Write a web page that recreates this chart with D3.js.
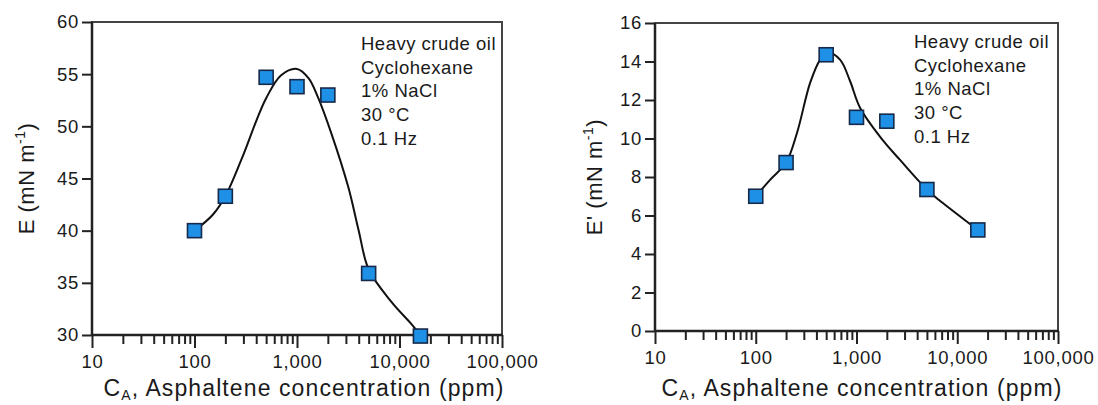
<!DOCTYPE html>
<html>
<head>
<meta charset="utf-8">
<script src="https://cdn.jsdelivr.net/npm/d3@7"></script>
<style>
  body { margin: 0; background: #fff; }
  svg { display: block; font-family: "Liberation Sans", Arial, Helvetica, sans-serif; }
  .tick text { font-size: 18.5px; fill: #1a1a1a; letter-spacing: 0.7px; }
  .tick line { stroke: #222; stroke-width: 2; }
  .note { font-size: 18.5px; fill: #1a1a1a; letter-spacing: 0.5px; }
</style>
</head>
<body>
<svg id="chart" width="1098" height="405"></svg>
<script>
// measured points, ppm vs modulus
const concentration = [100, 200, 500, 1000, 2000, 5000, 16000];
const elasticityE = [40.0, 43.3, 54.7, 53.8, 53.0, 35.9, 29.9];
const storageE = [7.0, 8.75, 14.35, 11.1, 10.9, 7.35, 5.25];

// fitted curves
const fitConcE = [100, 150, 200, 300, 400, 500, 700, 1000, 1300, 1600, 2150, 3160, 4000, 5000, 8300, 13200, 16000];
const fitE = [40.0, 41.5, 43.3, 47.3, 50.5, 52.7, 54.9, 55.5, 54.6, 52.8, 49.4, 44.2, 40.0, 36.3, 33.2, 31.0, 30.0];
const fitConcEp = [100, 138, 200, 257, 347, 437, 520, 686, 861, 1084, 1832, 2690, 5000, 6600, 12600, 16000];
const fitEp = [7.0, 7.84, 8.75, 10.3, 12.9, 14.1, 14.45, 14.1, 13.0, 11.6, 9.9, 8.9, 7.35, 6.8, 5.66, 5.25];

const xTickValues = [10, 100, 1000, 10000, 100000];
const xTickLabels = ["10", "100", "1,000", "10,000", "100,000"];
const yTicksE = [30, 35, 40, 45, 50, 55, 60];
const yTicksEp = [0, 2, 4, 6, 8, 10, 12, 14, 16];
const notes = ["Heavy crude oil", "Cyclohexane", "1% NaCl", "30 \u00B0C", "0.1 Hz"];

const svg = d3.select("#chart");

function drawPanel(p) {
  let x = d3.scaleLog().domain([10, 100000]).range([p.left, p.right]);
  let y = d3.scaleLinear().domain(p.yDomain).range([p.bottom, p.top]);

  let g = svg.append("g");

  // frame
  g.append("rect")
      .attr("x", p.left).attr("y", p.top)
      .attr("width", p.right - p.left).attr("height", p.bottom - p.top)
      .attr("fill", "none").attr("stroke", "#444").attr("stroke-width", 2);

  let minors = x.ticks().filter(function(d) { return xTickValues.indexOf(d) < 0; });

  g.append("g")
      .attr("transform", "translate(0," + p.bottom + ")")
      .call(d3.axisBottom(x).tickValues(minors).tickSize(9).tickFormat(""))
      .call(function(a) { a.select(".domain").remove(); });

  g.append("g")
      .attr("transform", "translate(0," + p.bottom + ")")
      .call(d3.axisBottom(x).tickValues(xTickValues).tickSize(13).tickPadding(7)
        .tickFormat(function(d, i) { return xTickLabels[i]; }))
      .call(function(a) { a.select(".domain").remove(); });

  g.append("g")
      .attr("transform", "translate(" + p.left + ",0)")
      .call(d3.axisLeft(y).tickValues(p.yTicks).tickSize(10).tickPadding(3))
      .call(function(a) { a.select(".domain").remove(); });

  // axis lines
  g.append("line")
      .attr("x1", p.left).attr("x2", p.left).attr("y1", p.top).attr("y2", p.bottom + 1)
      .attr("stroke", "#222").attr("stroke-width", 2.5);
  g.append("line")
      .attr("x1", p.left).attr("x2", p.right + 1).attr("y1", p.bottom).attr("y2", p.bottom)
      .attr("stroke", "#222").attr("stroke-width", 2.5);

  // axis titles
  let xt = g.append("text")
      .attr("x", p.xTitleX).attr("y", 396)
      .attr("text-anchor", "middle")
      .attr("font-size", 23).attr("letter-spacing", 1.1).attr("fill", "#1a1a1a");
  xt.append("tspan").text("C");
  xt.append("tspan").attr("font-size", 14).attr("dy", 4).text("A");
  xt.append("tspan").attr("dy", -4).text(", Asphaltene concentration (ppm)");

  let yt = g.append("text")
      .attr("transform", "translate(" + p.yTitleX + "," + ((p.top + p.bottom) / 2) + ") rotate(-90)")
      .attr("text-anchor", "middle")
      .attr("font-size", 22).attr("letter-spacing", 0.5).attr("fill", "#1a1a1a");
  yt.append("tspan").text(p.yName + " (mN m");
  yt.append("tspan").attr("font-size", 14).attr("dy", -9).text("-1");
  yt.append("tspan").attr("dy", 9).text(")");

  // fit line
  let line = d3.line()
      .x(function(d) { return x(d[0]); })
      .y(function(d) { return y(d[1]); })
      .curve(d3.curveCatmullRom.alpha(0.5));

  g.append("path")
      .datum(d3.zip(p.fitX, p.fitY))
      .attr("d", line)
      .attr("fill", "none").attr("stroke", "#111").attr("stroke-width", 2);

  // markers
  g.selectAll(".pt")
    .data(d3.zip(concentration, p.values))
    .enter().append("rect")
      .attr("class", "pt")
      .attr("x", function(d) { return x(d[0]) - 7; })
      .attr("y", function(d) { return y(d[1]) - 7; })
      .attr("width", 14).attr("height", 14)
      .attr("fill", "#1e90e6").attr("stroke", "#16294a").attr("stroke-width", 1.6);

  // conditions
  g.selectAll(".note")
    .data(notes)
    .enter().append("text")
      .attr("class", "note")
      .attr("x", p.noteX)
      .attr("y", function(d, i) { return p.noteY + i * 23.7; })
      .text(function(d) { return d; });
}

drawPanel({
  left: 92, right: 502, top: 22, bottom: 335,
  yDomain: [30, 60], yTicks: yTicksE, values: elasticityE,
  fitX: fitConcE, fitY: fitE, yName: "E",
  xTitleX: 304, yTitleX: 34, noteX: 361, noteY: 50
});

drawPanel({
  left: 655, right: 1058, top: 23, bottom: 331,
  yDomain: [0, 16], yTicks: yTicksEp, values: storageE,
  fitX: fitConcEp, fitY: fitEp, yName: "E'",
  xTitleX: 862, yTitleX: 602, noteX: 914, noteY: 48
});
</script>
</body>
</html>
